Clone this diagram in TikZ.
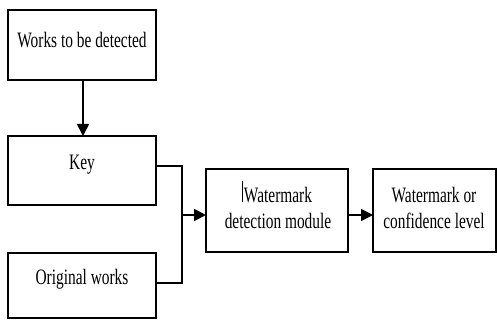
\documentclass[tikz,border=0pt]{standalone}
\usepackage{fontspec}
\setmainfont[FakeStretch=0.7]{Liberation Serif}
\usetikzlibrary{arrows.meta}
\begin{document}
\begin{tikzpicture}[x=1pt,y=-1pt,
  box/.style={draw=black,line width=2.6pt},
  lbl/.style={font=\fontsize{22}{26}\selectfont,align=center,inner sep=0pt},
  conn/.style={line width=1.8pt},
  arr/.style={conn,-{Triangle[length=12pt,width=12pt]}}]
\useasboundingbox (0,0) rectangle (497,320);
% boxes
\draw[box] (8,10) rectangle (156,80);
\coordinate (b1s) at (83,80);
\draw[box] (8,136) rectangle (156,205);
\coordinate (keyn) at (83,136);
\coordinate (keye) at (156,166);
\draw[box] (8,253) rectangle (156,318);
\coordinate (orige) at (156,283);
\draw[box] (206,169) rectangle (348,252);
\coordinate (detw) at (206,215);
\coordinate (dete) at (348,215);
\draw[box] (373,169) rectangle (496,252);
\coordinate (outw) at (373,215);
% labels
\node[lbl] (t1) at (82,40) {Works to be detected};
\node[lbl] (t2) at (82,165) {Key};
\node[lbl] (t3) at (82,279) {Original works};
\node[lbl] (t4) at (278,208) {Watermark\\detection module};
\node[lbl] (t5) at (434,208) {Watermark or\\confidence level};
\draw[line width=0.7pt] (242.7,181) -- (242.7,202);
% connectors
\coordinate (j1) at (182,166);
\coordinate (j2) at (182,283);
\coordinate (jm) at (182,215);
\draw[arr] (b1s) -- (keyn);
\draw[conn] (keye) -- (j1) -- (j2) -- (orige);
\draw[arr] (jm) -- (detw);
\draw[arr] (dete) -- (outw);
\end{tikzpicture}
\end{document}
